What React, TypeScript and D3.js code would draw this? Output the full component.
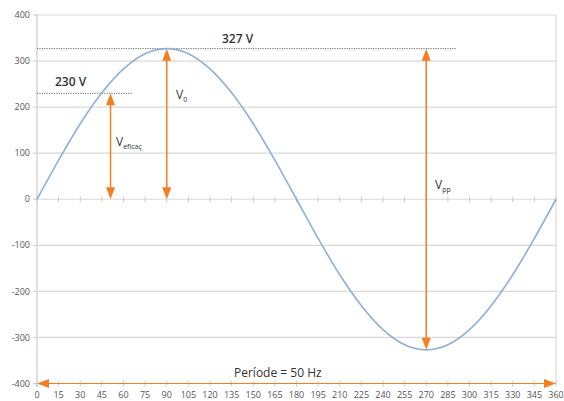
import React from "react";
import * as d3 from "d3";

const angles = [0, 15, 30, 45, 60, 75, 90, 105, 120, 135, 150, 165, 180, 195, 210, 225, 240, 255, 270, 285, 300, 315, 330, 345, 360];
const voltage = [0, 85, 164, 231, 283, 316, 327, 316, 283, 231, 164, 85, 0, -85, -164, -231, -283, -316, -327, -316, -283, -231, -164, -85, 0];
const yTicks = [400, 300, 200, 100, 0, -100, -200, -300, -400];
const xTicks = angles;
const peakValue = 327;
const rmsValue = 230;
const rmsAngle = 51;
const peakAngle = 90;
const troughAngle = 270;

const W = 564;
const H = 401;
const ORANGE = "#f57f20";

export default function App() {
  const x = d3.scaleLinear().domain([0, 360]).range([37, 556]);
  const y = d3.scaleLinear().domain([-400, 400]).range([383.5, 15]);
  const line = d3
    .line<number>()
    .x((_, i) => x(angles[i]))
    .y((d) => y(d))
    .curve(d3.curveCardinal.tension(0.2));

  const arrowV = (xa: number, y1: number, y2: number, key: string) => {
    const top = Math.min(y1, y2);
    const bot = Math.max(y1, y2);
    const hl = 12;
    const hw = 4.5;
    return (
      <g key={key}>
        <line x1={xa} x2={xa} y1={top + hl - 1} y2={bot - hl + 1} stroke={ORANGE} strokeWidth={1.5} />
        <path d={`M${xa},${top} L${xa - hw},${top + hl} L${xa + hw},${top + hl} Z`} fill={ORANGE} />
        <path d={`M${xa},${bot} L${xa - hw},${bot - hl} L${xa + hw},${bot - hl} Z`} fill={ORANGE} />
      </g>
    );
  };

  const y0 = y(0);
  const yBottom = y(-400);

  return (
    <div style={{ position: "absolute", left: 0, top: 0 }}>
      <svg width={W} height={H} style={{ display: "block", fontFamily: "'Open Sans', sans-serif" }}>
        <rect width={W} height={H} fill="#ffffff" />
        {yTicks.map((t) => (
          <line key={"g" + t} x1={x(0)} x2={x(360)} y1={y(t)} y2={y(t)} stroke="#d9d9d9" strokeWidth={1.2} />
        ))}
        <line x1={x(360)} x2={x(360)} y1={y(400)} y2={y(-400)} stroke="#d9d9d9" strokeWidth={1.2} />
        <line x1={x(0)} x2={x(0)} y1={y(400)} y2={y(-400) + 4} stroke="#c8ccd4" strokeWidth={1.2} />
        {yTicks.map((t) => (
          <g key={"yt" + t}>
            <line x1={x(0) - 4} x2={x(0)} y1={y(t)} y2={y(t)} stroke="#c8ccd4" />
            <text x={x(0) - 7} y={y(t)} dy="0.35em" textAnchor="end" fontSize={9} fill="#555">
              {t}
            </text>
          </g>
        ))}
        {xTicks.map((t) => (
          <line key={"zt" + t} x1={x(t)} x2={x(t)} y1={y0 - 3} y2={y0 + 3} stroke="#c8ccd4" />
        ))}
        {xTicks.map((t) => (
          <g key={"xt" + t}>
            <line x1={x(t)} x2={x(t)} y1={yBottom - 3} y2={yBottom + 3} stroke="#c8ccd4" />
            <text x={x(t)} y={398} textAnchor="middle" fontSize={9} fill="#555">
              {t}
            </text>
          </g>
        ))}
        <line x1={x(0)} x2={457} y1={y(peakValue)} y2={y(peakValue)} stroke="#666" strokeWidth={1} strokeDasharray="1.2,1.2" />
        <line x1={x(0)} x2={132} y1={y(rmsValue)} y2={y(rmsValue)} stroke="#666" strokeWidth={1} strokeDasharray="1.2,1.2" />
        <path d={line(voltage) || ""} fill="none" stroke="#8eb0d3" strokeWidth={1.6} />
        {arrowV(x(rmsAngle), y(rmsValue), y0, "a1")}
        {arrowV(x(peakAngle), y(peakValue), y0, "a2")}
        {arrowV(x(troughAngle), y(peakValue), y(-peakValue), "a3")}
        <line x1={x(0) + 10} x2={x(360) - 10} y1={yBottom} y2={yBottom} stroke={ORANGE} strokeWidth={1.2} />
        <path d={`M${x(0)},${yBottom} L${x(0) + 12},${yBottom - 4.5} L${x(0) + 12},${yBottom + 4.5} Z`} fill={ORANGE} />
        <path d={`M${x(360)},${yBottom} L${x(360) - 12},${yBottom - 4.5} L${x(360) - 12},${yBottom + 4.5} Z`} fill={ORANGE} />
        <text x={222} y={43} fontSize={12} fill="#333" fontWeight={600}>327 V</text>
        <text x={55} y={86} fontSize={12} fill="#333" fontWeight={600}>230 V</text>
        <text x={176} y={99} fontSize={12} fill="#333">
          V<tspan fontSize={7} dy={3}>0</tspan>
        </text>
        <text x={116} y={146} fontSize={12} fill="#333">
          V<tspan fontSize={7} dy={3}>eficaç</tspan>
        </text>
        <text x={435} y={189} fontSize={12} fill="#333">
          V<tspan fontSize={7} dy={3}>pp</tspan>
        </text>
        <text x={234} y={377} fontSize={12} fill="#333" fontWeight={500}>Període = 50 Hz</text>
      </svg>
    </div>
  );
}
